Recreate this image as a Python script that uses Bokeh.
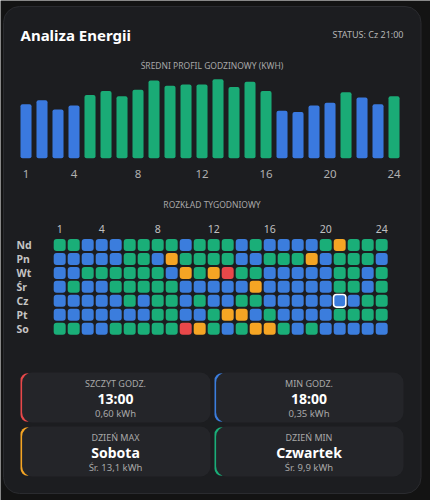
from bokeh.plotting import figure
from bokeh.models import Range1d, ColumnDataSource
from bokeh.core.properties import value
from bokeh.embed import file_html
from bokeh.resources import INLINE

# ---------------- data ----------------
hours = list(range(1, 25))
hourly_kwh = [0.41, 0.44, 0.37, 0.40, 0.48, 0.51, 0.47, 0.52, 0.59, 0.55, 0.56, 0.56,
              0.60, 0.54, 0.58, 0.51, 0.36, 0.35, 0.40, 0.42, 0.50, 0.46, 0.41, 0.47]
hourly_level = ["L", "L", "L", "L", "M", "M", "M", "M", "M", "M", "M", "M",
                "M", "M", "M", "M", "L", "L", "L", "L", "M", "L", "L", "M"]
hour_ticks = [1, 4, 8, 12, 16, 20, 24]

days = ["Nd", "Pn", "Wt", "Śr", "Cz", "Pt", "So"]
# L = low (blue), M = normal (green), H = high (amber), P = peak (red)
lvl_nd = "MMLLLMMMMLMMMLMLLLLMHMMM"
lvl_pn = "LLLLLMMLHMMMMLLMMMHLMMML"
lvl_wt = "LLMMMMMMLHMHPMMLLLLLMMLM"
lvl_sr = "LMLLMMMMMLLLLLHLLLLLMMLM"
lvl_cz = "LLLLLMLMMLMLLMMLLLLLLLMM"
lvl_pt = "LLLLLLLMMLLMHHLMLLLLMMMM"
lvl_so = "MMLLMMMMMPHMLMHHMLMLLLLL"
day_levels = [lvl_nd, lvl_pn, lvl_wt, lvl_sr, lvl_cz, lvl_pt, lvl_so]

status_day = "Cz"
status_hour = 21

stat_labels = ["SZCZYT GODZ.", "MIN GODZ.", "DZIEŃ MAX", "DZIEŃ MIN"]
stat_values = ["13:00", "18:00", "Sobota", "Czwartek"]
stat_subs = ["0,60 kWh", "0,35 kWh", "Śr. 13,1 kWh", "Śr. 9,9 kWh"]

# ---------------- style ----------------
BG = "#131313"
CARD = "#1c1d20"
CARD_LINE = "#2a2b2f"
TILE = "#242529"
C_LOW = "#3b7ddd"
C_MID = "#1aae78"
C_HIGH = "#f5a524"
C_PEAK = "#e8484a"
level_color = {"L": C_LOW, "M": C_MID, "H": C_HIGH, "P": C_PEAK}
bar_color = {"L": "#3a79df", "M": "#1aab76"}
accents = [C_PEAK, C_LOW, C_HIGH, C_MID]
FONT = value("Noto Sans")

p = figure(width=430, height=500, output_backend="svg", toolbar_location=None,
           x_range=Range1d(0, 430), y_range=Range1d(500, 0),
           x_axis_type=None, y_axis_type=None, min_border=0,
           outline_line_color=None, background_fill_color=BG, border_fill_color=BG)
p.grid.visible = False

p.extra_x_ranges = {"bx": Range1d(-0.594, 26.28), "hx": Range1d(-3.2286, 27.486)}
p.extra_y_ranges = {"by": Range1d(-2.599, 1.197), "hy": Range1d(18.315, -17.527)}

# main card
p.quad(left=[3], right=[420.5], top=[6], bottom=[493], fill_color=CARD,
       line_color=CARD_LINE, line_width=1, border_radius=16)

# header
p.text(x=[20], y=[34], text=["Analiza Energii"], text_font=FONT, text_font_style="bold",
       text_font_size="15px", text_color="#ffffff", text_baseline="middle", text_align="left")
p.text(x=[403], y=[34], text=[f"STATUS: {status_day} {status_hour}:00"], text_font=FONT,
       text_font_size="9px", text_color="#b5b5b5", text_baseline="middle", text_align="right")

# bar chart
p.text(x=[211.5], y=[65], text=["ŚREDNI PROFIL GODZINOWY (KWH)"], text_font=FONT,
       text_font_size="8.5px", text_color="#a8a8a8", text_baseline="middle", text_align="center")
src = ColumnDataSource(dict(x=hours, top=hourly_kwh,
                            color=[bar_color[l] for l in hourly_level]))
p.vbar(x="x", top="top", bottom=0, width=0.69, source=src, fill_color="color",
       line_color=None, border_radius=2, x_range_name="bx", y_range_name="by")
p.text(x=hour_ticks, y=[0] * len(hour_ticks), y_offset=16, text=[str(h) for h in hour_ticks],
       text_font=FONT, text_font_size="11.5px", text_color="#b0b0b0",
       text_baseline="middle", text_align="center", x_range_name="bx", y_range_name="by")

# heatmap
p.text(x=[211.5], y=[204], text=["ROZKŁAD TYGODNIOWY"], text_font=FONT,
       text_font_size="8.5px", text_color="#a8a8a8", text_baseline="middle", text_align="center")
hx, hy, hc = [], [], []
for r, lv in enumerate(day_levels):
    for c, code in enumerate(lv):
        hx.append(c + 1)
        hy.append(r)
        hc.append(level_color[code])
hsrc = ColumnDataSource(dict(x=hx, top=[y - 0.43 for y in hy], bottom=[y + 0.43 for y in hy], color=hc))
p.vbar(x="x", top="top", bottom="bottom", width=0.857, source=hsrc, fill_color="color",
       line_color=None, border_radius=3, x_range_name="hx", y_range_name="hy")
ri = days.index(status_day)
p.vbar(x=[status_hour], top=[ri - 0.45], bottom=[ri + 0.45], width=0.88, fill_color=None,
       line_color="#ffffff", line_width=1.6, border_radius=3, x_range_name="hx", y_range_name="hy")
p.text(x=hour_ticks, y=[0] * len(hour_ticks), y_offset=-16, text=[str(h) for h in hour_ticks],
       text_font=FONT, text_font_size="10.5px", text_color="#c0c0c0",
       text_baseline="middle", text_align="center", x_range_name="hx", y_range_name="hy")
p.text(x=[16] * len(days), y=list(range(len(days))), text=days, text_font=FONT,
       text_font_style="bold", text_font_size="10.5px", text_color="#c4c4c4",
       text_baseline="middle", text_align="left", y_range_name="hy")

# stat tiles
lefts = [20, 214, 20, 214]
rights = [210, 403, 210, 403]
tops = [372, 372, 426, 426]
bottoms = [422, 422, 476, 476]
p.quad(left=lefts, right=[l + 14 for l in lefts], top=[t + 0.8 for t in tops],
       bottom=[b - 0.8 for b in bottoms], fill_color=accents, line_color=None, border_radius=10)
p.quad(left=[l + 1.6 for l in lefts], right=rights, top=tops, bottom=bottoms,
       fill_color=TILE, line_color=None, border_radius=10)
cx = [(l + r) / 2 for l, r in zip(lefts, rights)]
p.text(x=cx, y=[t + 11 for t in tops], text=stat_labels, text_font=FONT, text_font_size="9px",
       text_color="#a8a8a8", text_baseline="middle", text_align="center")
p.text(x=cx, y=[t + 26 for t in tops], text=stat_values, text_font=FONT, text_font_style="bold",
       text_font_size="14px", text_color="#ffffff", text_baseline="middle", text_align="center")
p.text(x=cx, y=[t + 40.5 for t in tops], text=stat_subs, text_font=FONT, text_font_size="9.5px",
       text_color="#a8a8a8", text_baseline="middle", text_align="center")

open("out.html", "w").write(file_html(p, INLINE))
